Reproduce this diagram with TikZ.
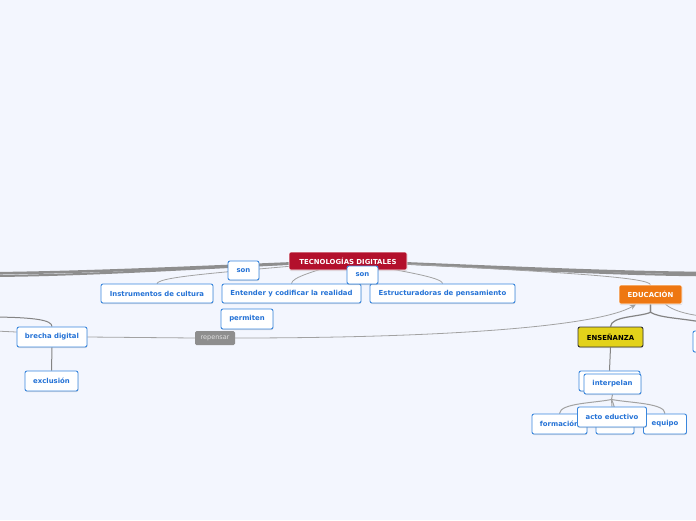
\documentclass[tikz,border=0pt]{standalone}
\usepackage{fontspec}
\setmainfont{DejaVu Sans}
\usetikzlibrary{shadows,arrows.meta}
\definecolor{bgc}{HTML}{F3F6FE}
\definecolor{bordblue}{HTML}{3A87DD}
\definecolor{txtblue}{HTML}{2472D6}
\definecolor{tecred}{HTML}{B3102C}
\definecolor{eduorange}{HTML}{EE7711}
\definecolor{ensyellow}{HTML}{E3D21A}
\definecolor{labgray}{HTML}{8E8E8E}
\definecolor{thickgray}{HTML}{8E8E8E}
\definecolor{thingray}{HTML}{A2A2A2}
\definecolor{midgray}{HTML}{848484}
\pgfdeclarelayer{bg}
\pgfsetlayers{bg,main}
\tikzset{
  basebox/.style={inner sep=0pt, rounded corners=2pt, font=\fontsize{6.9}{8}\selectfont\bfseries,
    drop shadow={opacity=0.25, shadow xshift=0.4pt, shadow yshift=-1pt}},
  topic/.style={basebox, draw=bordblue, fill=white, line width=0.9pt, text=txtblue},
  central/.style={basebox, draw=white, fill=tecred, line width=0.6pt, text=white},
  mainorange/.style={basebox, draw=white, fill=eduorange, line width=0.6pt, text=white},
  mainyellow/.style={basebox, draw=black!80, fill=ensyellow, line width=0.9pt, text=black},
  lab/.style={inner sep=0pt, rounded corners=1.5pt, fill=labgray, text=white!88!black,
    font=\fontsize{6.5}{8}\selectfont},
  thickline/.style={draw=thickgray, line width=2.6pt},
  thickline2/.style={draw=thickgray, line width=2pt},
  thinline/.style={draw=thingray, line width=0.8pt},
  midline/.style={draw=midgray, line width=1pt},
}
\begin{document}
\begin{tikzpicture}[x=1pt,y=-1pt]
\begin{pgfonlayer}{bg}
\fill[bgc] (0,0) rectangle (696,520);
\end{pgfonlayer}
\useasboundingbox (0,0) rectangle (696,520);

% off-screen ends
\coordinate (offL1) at (-5,273.3);
\coordinate (offL2) at (-5,276);
\coordinate (offL3) at (-5,317);
\coordinate (offL4) at (-5,331);
\coordinate (offR1) at (701,273);
\coordinate (offR2) at (701,275.3);
\coordinate (offR3) at (701,322);
\coordinate (offR4) at (701,316);

% nodes
\node[central, minimum width=118pt, minimum height=18pt] (tec) at (348,261) {TECNOLOGÍAS DIGITALES};
\node[topic, minimum width=112pt, minimum height=19pt] (instr) at (157,293.5) {Instrumentos de cultura};
\node[topic, minimum width=139pt, minimum height=19pt] (ent) at (291.5,293.5) {Entender y codificar la realidad};
\node[topic, minimum width=145pt, minimum height=19pt] (estr) at (442.5,293.5) {Estructuradoras de pensamiento};
\node[topic, minimum width=31pt, minimum height=19pt] (son1) at (243.5,270.5) {son};
\node[topic, minimum width=31pt, minimum height=18pt] (son2) at (362.5,275) {son};
\node[topic, minimum width=52pt, minimum height=20pt] (perm) at (247,319) {permiten};
\node[lab, minimum width=40pt, minimum height=14pt] (rep) at (215,338) {repensar};
\node[topic, minimum width=70pt, minimum height=20pt] (brecha) at (52,337) {brecha digital};
\node[topic, minimum width=53pt, minimum height=20pt] (excl) at (51.5,381) {exclusión};
\node[mainorange, minimum width=63pt, minimum height=19pt] (edu) at (650.5,294.5) {EDUCACIÓN};
\node[mainyellow, minimum width=65pt, minimum height=20pt] (ens) at (610.5,337) {ENSEÑANZA};
\node[topic, minimum width=38pt, minimum height=21pt] (rbox) at (712,341.5) {};
\node[topic, minimum width=61pt, minimum height=20pt] (back) at (609.5,381) {};
\node[topic, minimum width=57pt, minimum height=20pt] (interp) at (612.5,384) {interpelan};
\node[topic, minimum width=55pt, minimum height=20pt] (form) at (559.5,424) {formación};
\node[topic, minimum width=38pt, minimum height=20pt] (mid) at (615,424) {};
\node[topic, minimum width=43pt, minimum height=20pt] (equipo) at (665,424) {equipo};
\node[topic, minimum width=69pt, minimum height=20pt] (acto) at (612,417) {acto eductivo};

\begin{pgfonlayer}{bg}
% thick main lines
\draw[thickline] (tec.center) .. controls (200,267) and (100,272) .. (offL1);
\draw[thickline2] (tec.center) .. controls (200,268) and (100,275) .. (offL2);
\draw[thickline] (tec.center) .. controls (500,267) and (600,272) .. (offR1);
\draw[thickline2] (tec.center) .. controls (500,268) and (600,274.3) .. (offR2);
% thin child lines
\draw[thinline] (instr.north) .. controls (160,276) and (230,272) .. (tec.center);
\draw[thinline] (ent.north) .. controls (292,277) and (315,271) .. (tec.center);
\draw[thinline] (estr.north) .. controls (442,277) and (400,271) .. (tec.center);
\draw[thinline] (edu.north) .. controls (648,277) and (560,272) .. (tec.center);
% brecha
\draw[midline] (brecha.north) .. controls (52,320) and (35,317.5) .. (offL3);
\draw[thinline] ([yshift=5pt]brecha.west) -- (offL4);
\draw[midline] (brecha.south) -- (excl.north);
\draw[thinline] (brecha.east) -- (rep.west);
\draw[thinline, -{Stealth[length=6pt,width=5pt]}] (rep.east) .. controls (450,338) and (600,326) .. ([xshift=-14.5pt]edu.south);
% educacion
\draw[midline, line width=1.2pt] (edu.south) -- ++(0,8) .. controls (640,317) and (611,316) .. (ens.north);
\draw[midline, line width=1.2pt] (edu.south) -- ++(0,8) .. controls (660,318) and (680,318) .. (offR3);
\draw[thinline] ([xshift=15pt]edu.south) .. controls (672,310) and (685,314) .. (offR4);
% ensenanza
\draw[midline] (ens.south) -- (back.north);
\draw[thinline, line width=1pt] (interp.south) -- ++(-1,5) coordinate (split) .. controls (595,403) and (560,403) .. (form.north);
\draw[thinline, line width=1pt] (split) .. controls (630,403) and (665,403) .. (equipo.north);
\draw[thinline, line width=1pt] (split) -- (acto.north);
\draw[thinline, line width=1pt] (split) .. controls (614,405) .. (mid.north);
\end{pgfonlayer}
\end{tikzpicture}
\end{document}
